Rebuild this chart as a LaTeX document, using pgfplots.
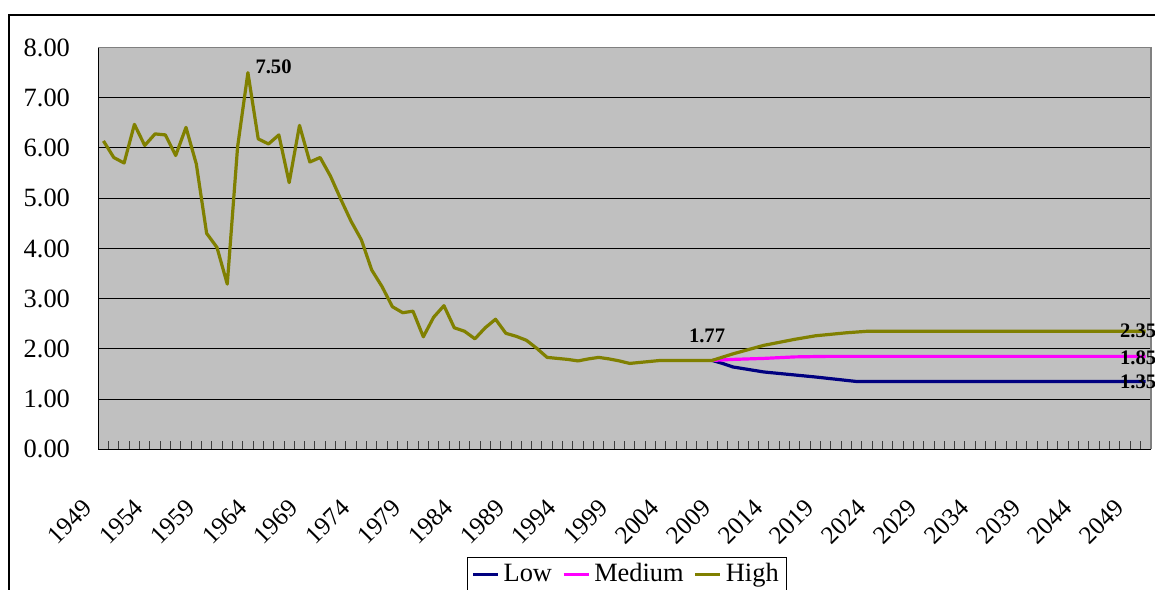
\documentclass[border=0pt]{standalone}
\usepackage{fontspec}
\setmainfont{Liberation Serif}
\usepackage{pgfplots}
\pgfplotsset{compat=1.18}
\usepackage{pgfplotstable}

\definecolor{plotgray}{RGB}{192,192,192}
\definecolor{framegray}{RGB}{128,128,128}
\definecolor{lownavy}{RGB}{0,0,128}
\definecolor{medmag}{RGB}{255,0,255}
\definecolor{higholive}{RGB}{128,128,0}

% Historical total fertility rate + High projection
\pgfplotstableread{
year tfr
1949 6.14
1950 5.81
1951 5.70
1952 6.47
1953 6.05
1954 6.28
1955 6.26
1956 5.85
1957 6.41
1958 5.68
1959 4.30
1960 4.02
1961 3.29
1962 6.02
1963 7.50
1964 6.18
1965 6.08
1966 6.26
1967 5.31
1968 6.45
1969 5.72
1970 5.81
1971 5.44
1972 4.98
1973 4.54
1974 4.17
1975 3.57
1976 3.24
1977 2.84
1978 2.72
1979 2.75
1980 2.24
1981 2.63
1982 2.86
1983 2.42
1984 2.35
1985 2.20
1986 2.42
1987 2.59
1988 2.31
1989 2.25
1990 2.17
1991 2.01
1992 1.83
1993 1.81
1994 1.79
1995 1.76
1996 1.80
1997 1.83
1998 1.80
1999 1.76
2000 1.71
2001 1.73
2002 1.75
2003 1.77
2004 1.77
2005 1.77
2006 1.77
2007 1.77
2008 1.77
2010 1.90
2013 2.07
2016 2.19
2018 2.26
2021 2.32
2023 2.35
2050 2.35
}\hightable

\pgfplotstableread{
year tfr
2008 1.77
2010 1.79
2013 1.81
2016 1.84
2019 1.85
2050 1.85
}\medtable

\pgfplotstableread{
year tfr
2008 1.77
2009 1.71
2010 1.64
2013 1.54
2018 1.44
2022 1.35
2050 1.35
}\lowtable

\begin{document}
\begin{tikzpicture}
\path[use as bounding box] (0,0) rectangle (577.5pt,-294.5pt);
\clip (0,0) rectangle (577.5pt,-294.5pt);
\fill[white] (0,0) rectangle (577.5pt,-294.5pt);
\draw[black, line width=0.6pt] (4.5pt,-7.5pt) rectangle (640pt,-340pt);
\begin{axis}[
  at={(49.15pt,-224.65pt)}, anchor=south west,
  scale only axis, width=526.2pt, height=200.9pt,
  xmin=1948.5, xmax=2050.5, ymin=0, ymax=8,
  clip=false,
  axis background/.style={fill=plotgray},
  axis line style={draw=none},
  ytick={0,1,...,8},
  ymajorgrids, major grid style={black, line width=0.5pt},
  ytick style={draw=none},
  xtick={1949,1954,...,2049},
  xticklabels={1949,1954,1959,1964,1969,1974,1979,1984,1989,1994,1999,2004,2009,2014,2019,2024,2029,2034,2039,2044,2049},
  minor xtick={1949.5,1950.5,...,2049.5},
  xtick pos=bottom, tick align=inside,
  major tick length=0pt, minor tick length=4pt,
  minor tick style={black!75, line width=0.5pt},
  yticklabel style={/pgf/number format/fixed, /pgf/number format/fixed zerofill, /pgf/number format/precision=2, /pgf/number format/assume math mode=true},
  y tick label style={font=\fontsize{13.2}{16}\selectfont, anchor=east, inner sep=0pt, xshift=-14pt},
  x tick label style={font=\fontsize{12.6}{15}\selectfont, inner sep=0pt, xshift=-11pt, yshift=-24pt, rotate=45, anchor=north east},
  legend style={at={(axis description cs:0.3503,-0.268)}, anchor=north west,
    draw=black, line width=0.5pt, fill=white,
    font=\fontsize{13.2}{16}\selectfont,
    legend columns=3, inner xsep=2pt, inner ysep=1pt,
    /tikz/every even column/.append style={column sep=3pt}},
  legend image code/.code={\draw[#1] (0pt,0pt) -- (12.5pt,0pt);},
  every axis plot/.append style={line width=1.6pt, line join=round},
]
\addplot[lownavy] table[x=year,y=tfr] {\lowtable};
\addlegendentry{Low}
\addplot[medmag] table[x=year,y=tfr] {\medtable};
\addlegendentry{Medium}
\addplot[higholive] table[x=year,y=tfr] {\hightable};
\addlegendentry{High}

\draw[framegray, line width=0.8pt] (rel axis cs:0,1) -- (rel axis cs:1,1) -- (rel axis cs:1,0);
\draw[black, line width=0.7pt] (rel axis cs:0,1) -- (rel axis cs:0,0) -- (rel axis cs:1,0);

\node[anchor=west, inner sep=0pt, font=\fontsize{10.3}{12}\selectfont\bfseries] at (axis cs:1963.7,7.61) {7.50};
\node[anchor=center, inner sep=0pt, font=\fontsize{10.3}{12}\selectfont\bfseries] at (axis cs:2007.5,2.26) {1.77};
\node[anchor=west, inner sep=0pt, font=\fontsize{10.3}{12}\selectfont\bfseries] at (axis cs:2047.5,2.35) {2.35};
\node[anchor=west, inner sep=0pt, font=\fontsize{10.3}{12}\selectfont\bfseries] at (axis cs:2047.5,1.83) {1.85};
\node[anchor=west, inner sep=0pt, font=\fontsize{10.3}{12}\selectfont\bfseries] at (axis cs:2047.5,1.35) {1.35};
\end{axis}
\end{tikzpicture}
\end{document}
